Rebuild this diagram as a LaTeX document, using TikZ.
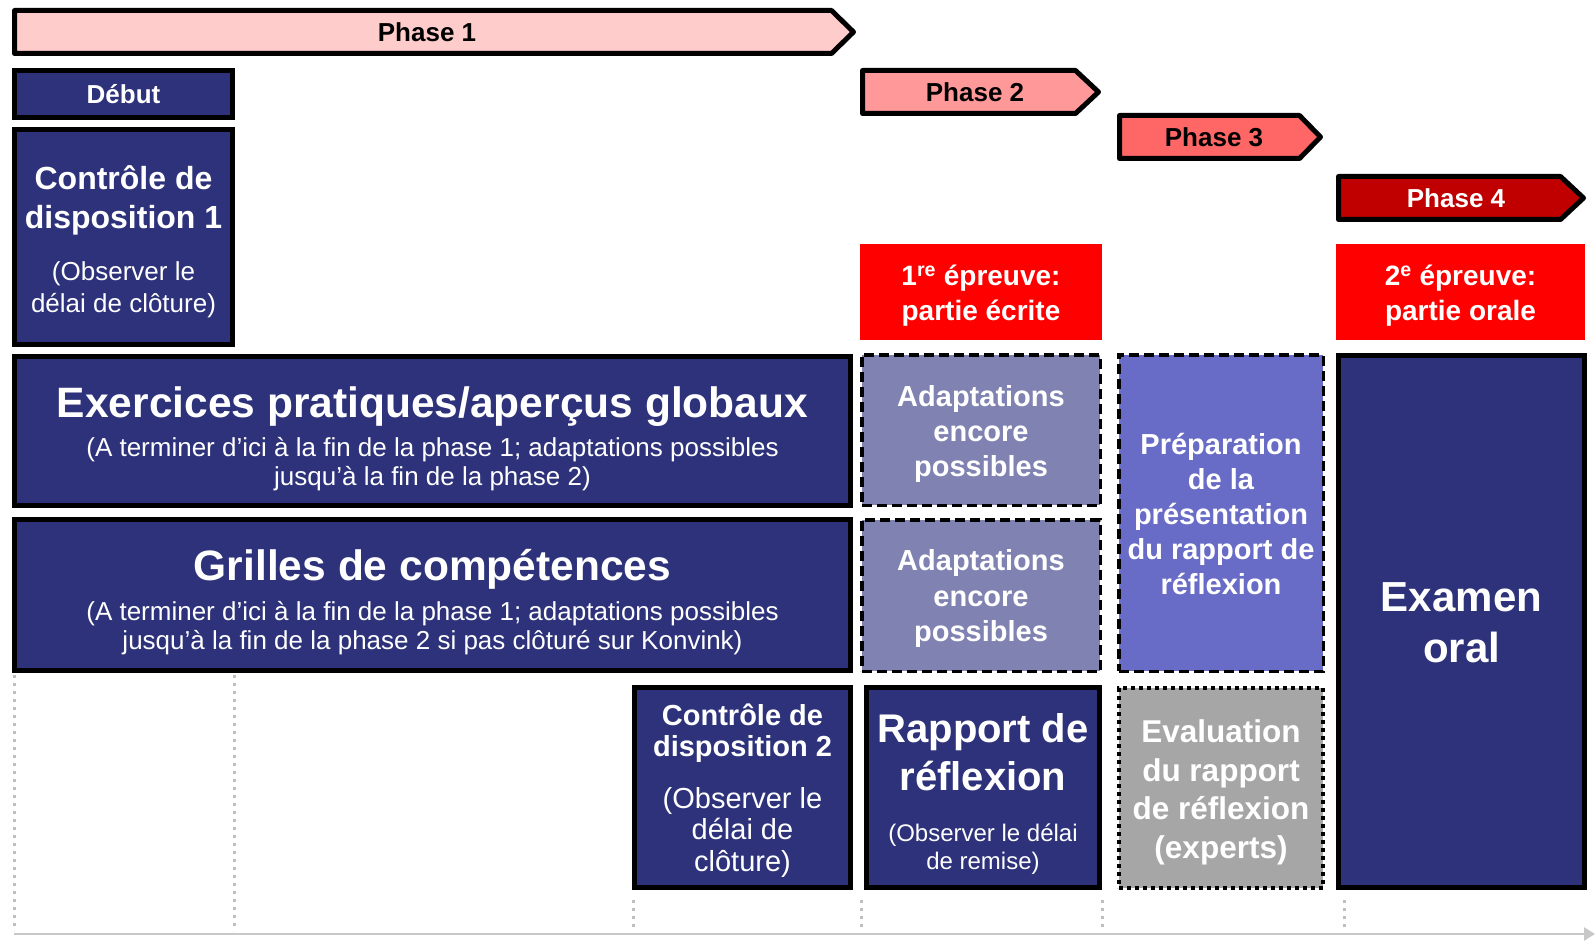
\documentclass[tikz,border=0pt]{standalone}
\usepackage{fontspec}
\setmainfont{Liberation Sans}
\usetikzlibrary{arrows.meta}
\definecolor{navy}{RGB}{45,50,122}
\definecolor{adaptcol}{RGB}{128,130,178}
\definecolor{prepcol}{RGB}{105,108,198}
\definecolor{evalcol}{RGB}{166,166,166}
\definecolor{phaseA}{RGB}{255,204,204}
\definecolor{phaseB}{RGB}{255,153,153}
\definecolor{phaseC}{RGB}{255,102,102}
\definecolor{phaseD}{RGB}{192,0,0}
\definecolor{redbox}{RGB}{255,0,0}
\definecolor{guidegray}{RGB}{191,191,191}
\definecolor{axisgray}{RGB}{200,200,200}
\newcommand\myfs[2]{\fontsize{#1}{#2}\selectfont\centering\spaceskip=0pt\xspaceskip=0pt\relax}
\newcommand\btxt[3]{\parbox{#1}{\vspace*{#2}#3}}
\tikzset{
  solidbox/.style={draw=black, line width=5pt, fill=navy, text=white, inner sep=0pt},
  dashbox/.style={draw=black, line width=3.5pt, dash pattern=on 10pt off 5pt, text=white, inner sep=0pt},
  dotbox/.style={draw=black, line width=4pt, dash pattern=on 4pt off 4pt, text=white, inner sep=0pt},
  redlabel/.style={fill=redbox, text=white, inner sep=0pt},
  phasepoly/.style={draw=black, line width=5pt, line join=round},
  phasetext/.style={inner sep=0pt, font=\fontsize{26}{30}\selectfont\bfseries},
  guide/.style={draw=guidegray, line width=3pt, dash pattern=on 3pt off 5pt},
  axisline/.style={draw=axisgray, line width=2.5pt, -{Triangle[length=11pt,width=13pt]}}
}
\begin{document}
\begin{tikzpicture}[x=1pt,y=-1pt]
\useasboundingbox (0,0) rectangle (1595,941);
\fill[white] (0,0) rectangle (1595,941);

% guides and axis
\coordinate (g1a) at (14,675); \coordinate (g1b) at (14,931);
\coordinate (g2a) at (234,675); \coordinate (g2b) at (234,931);
\coordinate (g3a) at (633,900); \coordinate (g3b) at (633,928);
\coordinate (g4a) at (861,900); \coordinate (g4b) at (861,928);
\coordinate (g5a) at (1102,900); \coordinate (g5b) at (1102,928);
\coordinate (g6a) at (1344,900); \coordinate (g6b) at (1344,928);
\draw[guide] (g1a) -- (g1b);
\draw[guide] (g2a) -- (g2b);
\draw[guide] (g3a) -- (g3b);
\draw[guide] (g4a) -- (g4b);
\draw[guide] (g5a) -- (g5b);
\draw[guide] (g6a) -- (g6b);
\coordinate (axS) at (14,934);
\coordinate (axE) at (1595,934);
\draw[axisline] (axS) -- (axE);

% phase arrows
\filldraw[phasepoly, fill=phaseA] (14.5,10.5) -- (831.5,10.5) -- (853.5,32) -- (831.5,53.5) -- (14.5,53.5) -- cycle;
\node[phasetext] (ph1) at (427,32.5) {Phase 1};
\filldraw[phasepoly, fill=phaseB] (862.5,70.5) -- (1075.5,70.5) -- (1098.5,92) -- (1075.5,113.5) -- (862.5,113.5) -- cycle;
\node[phasetext] (ph2) at (975,92.5) {Phase 2};
\filldraw[phasepoly, fill=phaseC] (1119.5,115.5) -- (1299.5,115.5) -- (1320.5,137) -- (1299.5,158.5) -- (1119.5,158.5) -- cycle;
\node[phasetext] (ph3) at (1214,137.5) {Phase 3};
\filldraw[phasepoly, fill=phaseD] (1338.5,176.5) -- (1560.5,176.5) -- (1583.5,198) -- (1560.5,219.5) -- (1338.5,219.5) -- cycle;
\node[phasetext, text=white] (ph4) at (1456,198.5) {Phase 4};

% left column
\node[solidbox, minimum width=218pt, minimum height=47pt] (debut) at (123.5,94)
  {\btxt{210pt}{0pt}{\myfs{26}{30}\bfseries Début\par}};
\node[solidbox, minimum width=218pt, minimum height=215pt] (cd1) at (123.5,237)
  {\btxt{214pt}{10pt}{{\myfs{32}{38.5}\bfseries Contrôle de\\disposition 1\par}\vspace{20pt}{\myfs{26}{32.4}(Observer le\\délai de clôture)\par}}};

% wide boxes
\node[solidbox, minimum width=836pt, minimum height=149pt] (exo) at (432.5,431)
  {\btxt{830pt}{16pt}{{\myfs{42.5}{50}\bfseries Exercices pratiques/aperçus globaux\par}\vspace{9.5pt}{\myfs{26}{29.5}(A terminer d’ici à la fin de la phase 1; adaptations possibles\\jusqu’à la fin de la phase 2)\par}}};
\node[solidbox, minimum width=836pt, minimum height=151pt] (grilles) at (432.5,595)
  {\btxt{830pt}{14pt}{{\myfs{42.5}{50}\bfseries Grilles de compétences\par}\vspace{10.5pt}{\myfs{26}{29}(A terminer d’ici à la fin de la phase 1; adaptations possibles\\jusqu’à la fin de la phase 2 si pas clôturé sur Konvink)\par}}};

% red labels
\node[redlabel, minimum width=242pt, minimum height=96pt] (ep1) at (981,292)
  {\btxt{238pt}{7pt}{\myfs{28}{34.3}\bfseries 1\textsuperscript{re} épreuve:\\partie écrite\par}};
\node[redlabel, minimum width=249pt, minimum height=96pt] (ep2) at (1460.5,292)
  {\btxt{245pt}{7pt}{\myfs{28}{34.3}\bfseries 2\textsuperscript{e} épreuve:\\partie orale\par}};

% phase 2 column
\node[dashbox, fill=adaptcol, minimum width=238.5pt, minimum height=150.5pt] (ad1) at (981,430)
  {\btxt{234pt}{8pt}{\myfs{29}{35.3}\bfseries Adaptations\\encore\\possibles\par}};
\node[dashbox, fill=adaptcol, minimum width=238.5pt, minimum height=151.5pt] (ad2) at (981,595.5)
  {\btxt{234pt}{6pt}{\myfs{29}{35.3}\bfseries Adaptations\\encore\\possibles\par}};
\node[solidbox, minimum width=216pt, minimum height=200pt] (cd2) at (742.5,787.5)
  {\btxt{212pt}{6pt}{{\myfs{29}{31.6}\bfseries Contrôle de\\disposition 2\par}\vspace{20pt}{\myfs{29}{31.6}(Observer le\\délai de\\clôture)\par}}};
\node[solidbox, minimum width=233pt, minimum height=200pt] (rapport) at (983,787.5)
  {\btxt{229pt}{13pt}{{\myfs{40}{48}\bfseries Rapport de\\réflexion\par}\vspace{22pt}{\myfs{24}{28.6}(Observer le délai\\de remise)\par}}};

% phase 3 column
\node[dashbox, fill=prepcol, minimum width=204.5pt, minimum height=316.5pt] (prep) at (1221,513)
  {\btxt{202pt}{2pt}{\myfs{29}{35.2}\bfseries Préparation\\de la\\présentation\\du rapport de\\réflexion\par}};
\node[dotbox, fill=evalcol, minimum width=204pt, minimum height=200pt] (eval) at (1221,788)
  {\btxt{202pt}{9pt}{\myfs{31.5}{38.5}\bfseries Evaluation\\du rapport\\de réflexion\\(experts)\par}};

% phase 4 column
\node[solidbox, minimum width=246pt, minimum height=532pt] (examen) at (1461.5,621.5)
  {\btxt{240pt}{2pt}{\myfs{42}{51}\bfseries Examen\\oral\par}};
\end{tikzpicture}
\end{document}
